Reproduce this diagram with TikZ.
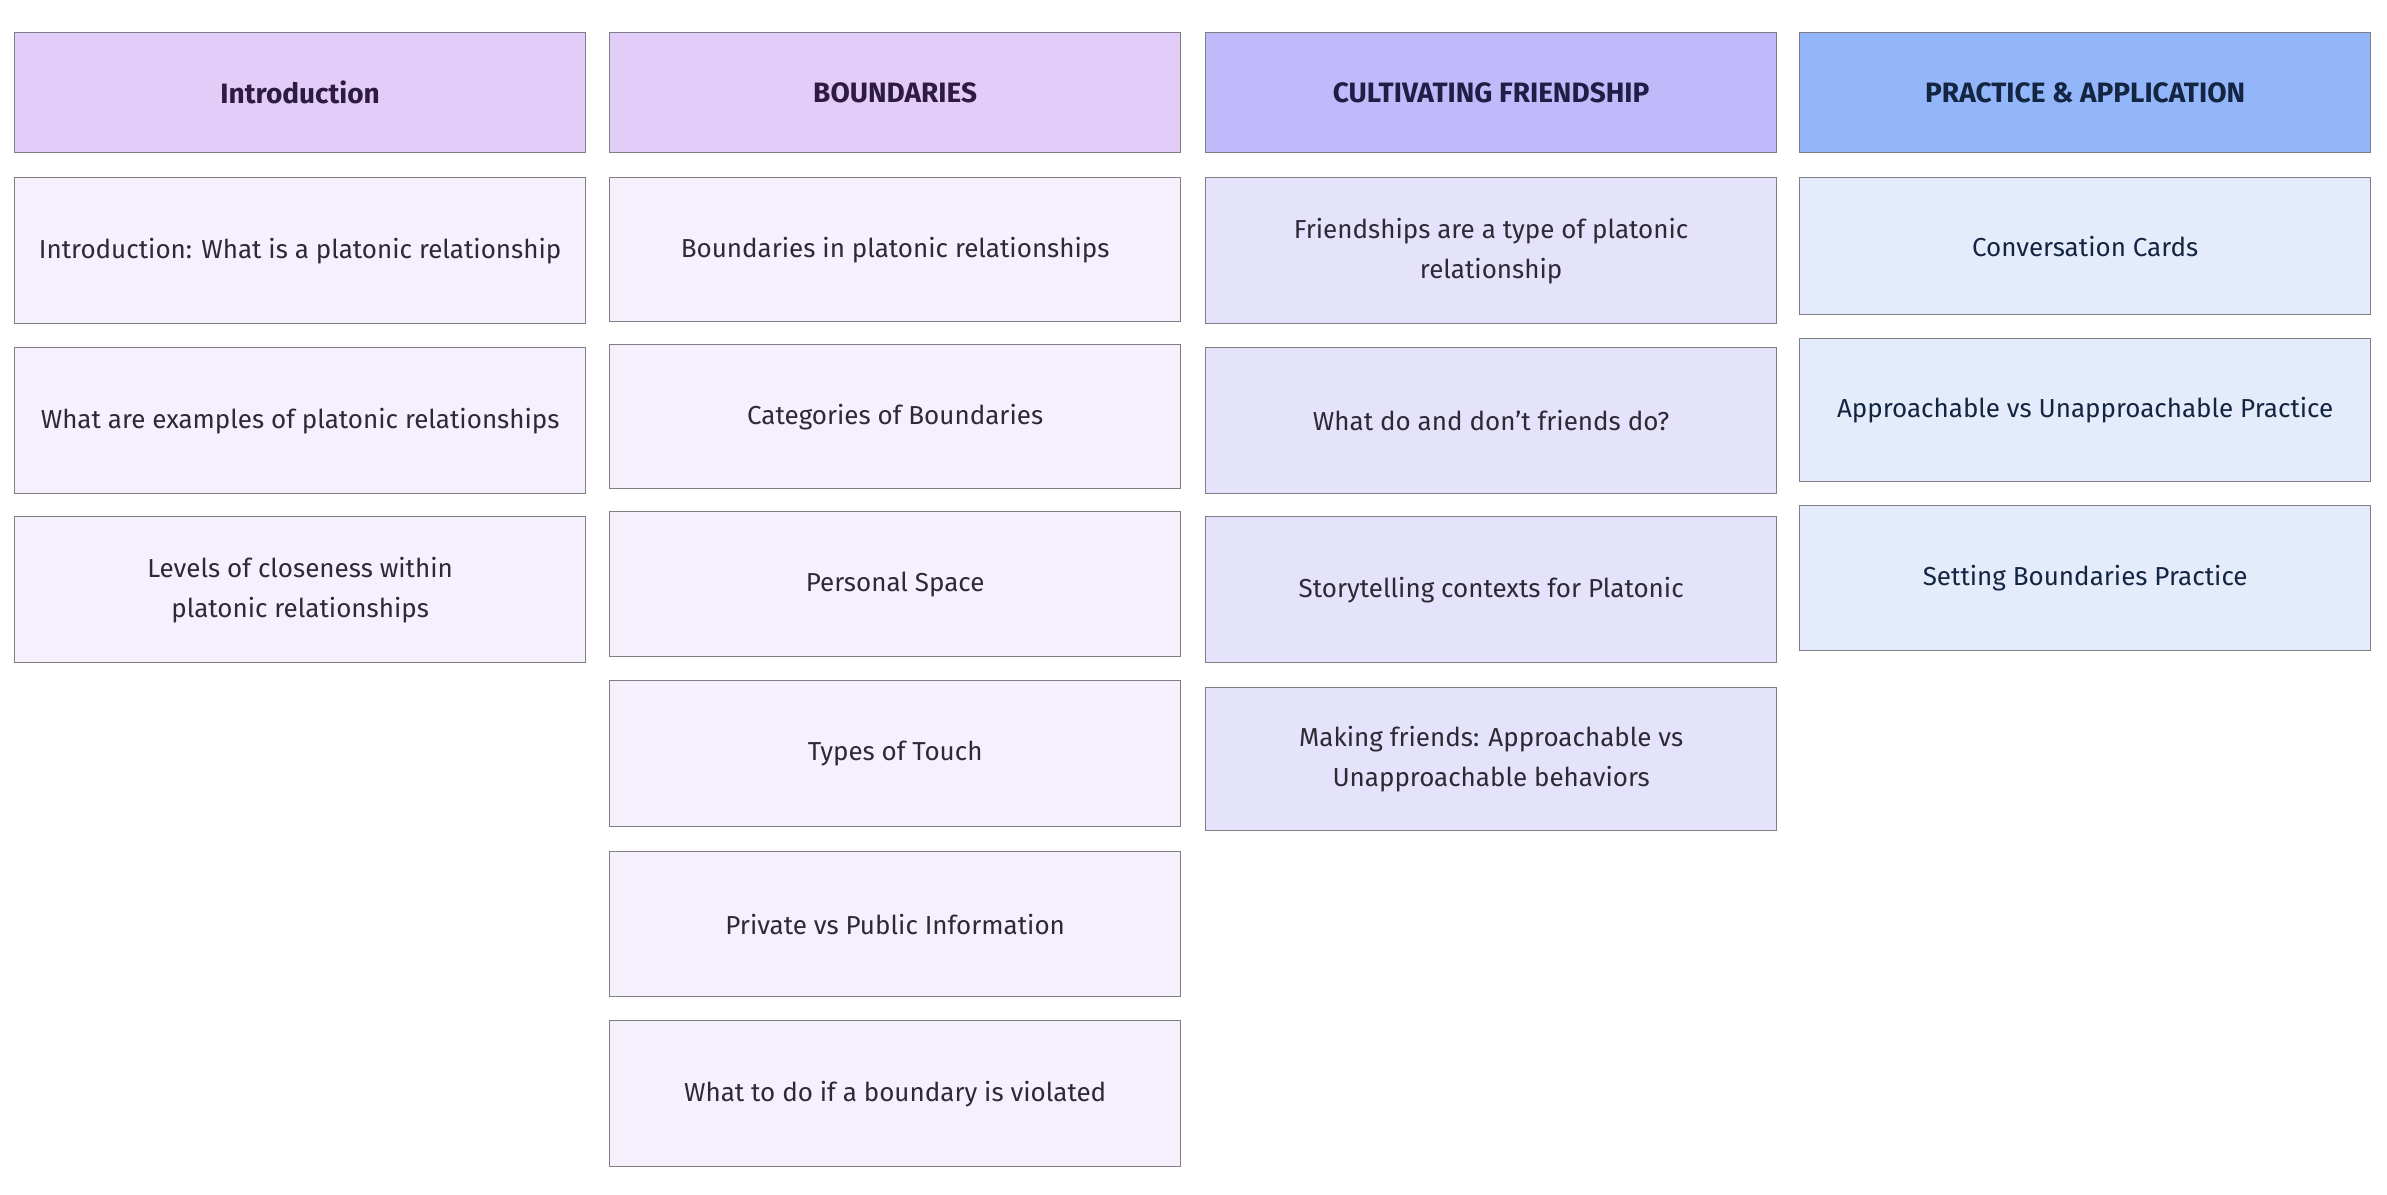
\documentclass[tikz,border=0pt]{standalone}
\usepackage{fontspec}
\setmainfont{Fira Sans}
\definecolor{hA}{HTML}{E2CCF8}
\definecolor{hC}{HTML}{C0B9FA}
\definecolor{hD}{HTML}{93B6FA}
\definecolor{bA}{HTML}{F6F0FC}
\definecolor{bC}{HTML}{E5E3FC}
\definecolor{bD}{HTML}{E4ECFC}
\definecolor{edge}{HTML}{7E7E84}
\definecolor{txt}{HTML}{2B2A35}
\definecolor{tA}{HTML}{2E1B40}
\definecolor{tC}{HTML}{1F1F45}
\definecolor{tD}{HTML}{142542}
\begin{document}
\begin{tikzpicture}[x=1pt,y=-1pt,
  cell/.style={draw=edge, line width=1.3pt, anchor=north west, minimum width=571pt,
    align=center, text=txt, font=\fontsize{26}{40}\selectfont, inner sep=0pt},
  head/.style={cell, minimum height=120pt, font=\fontsize{28}{40}\selectfont\bfseries},
  card/.style={cell, minimum height=146pt}]
\useasboundingbox[fill=white] (0,0) rectangle (2387,1194);
% headers
\node[head, fill=hA, text=tA] (h1) at (14,32) {Introduction};
\node[head, fill=hA, text=tA] (h2) at (609,32) {BOUNDARIES};
\node[head, fill=hC, text=tC] (h3) at (1205,32) {CULTIVATING FRIENDSHIP};
\node[head, fill=hD, text=tD] (h4) at (1799,32) {PRACTICE \& APPLICATION};
% column 1
\node[card, fill=bA] (a1) at (14,177) {Introduction: What is a platonic relationship};
\node[card, fill=bA] (a2) at (14,347) {What are examples of platonic relationships};
\node[card, fill=bA] (a3) at (14,516) {Levels of closeness within\\platonic relationships};
% column 2
\node[card, fill=bA, minimum height=144pt] (b1) at (609,177) {Boundaries in platonic relationships};
\node[card, fill=bA, minimum height=144pt] (b2) at (609,344) {Categories of Boundaries};
\node[card, fill=bA, minimum height=145pt] (b3) at (609,511) {Personal Space};
\node[card, fill=bA, minimum height=146pt] (b4) at (609,680) {Types of Touch};
\node[card, fill=bA, minimum height=145pt] (b5) at (609,851) {Private vs Public Information};
\node[card, fill=bA, minimum height=146pt] (b6) at (609,1020) {What to do if a boundary is violated};
% column 3
\node[card, fill=bC] (c1) at (1205,177) {Friendships are a type of platonic\\relationship};
\node[card, fill=bC] (c2) at (1205,347) {What do and don’t friends do?};
\node[card, fill=bC] (c3) at (1205,516) {Storytelling contexts for Platonic};
\node[card, fill=bC, minimum height=143pt] (c4) at (1205,687) {Making friends: Approachable vs\\Unapproachable behaviors};
% column 4
\node[card, fill=bD, text=tD, minimum height=137pt] (d1) at (1799,177) {Conversation Cards};
\node[card, fill=bD, text=tD, minimum height=143pt] (d2) at (1799,338) {Approachable vs Unapproachable Practice};
\node[card, fill=bD, text=tD, minimum height=145pt] (d3) at (1799,505) {Setting Boundaries Practice};
\end{tikzpicture}
\end{document}
